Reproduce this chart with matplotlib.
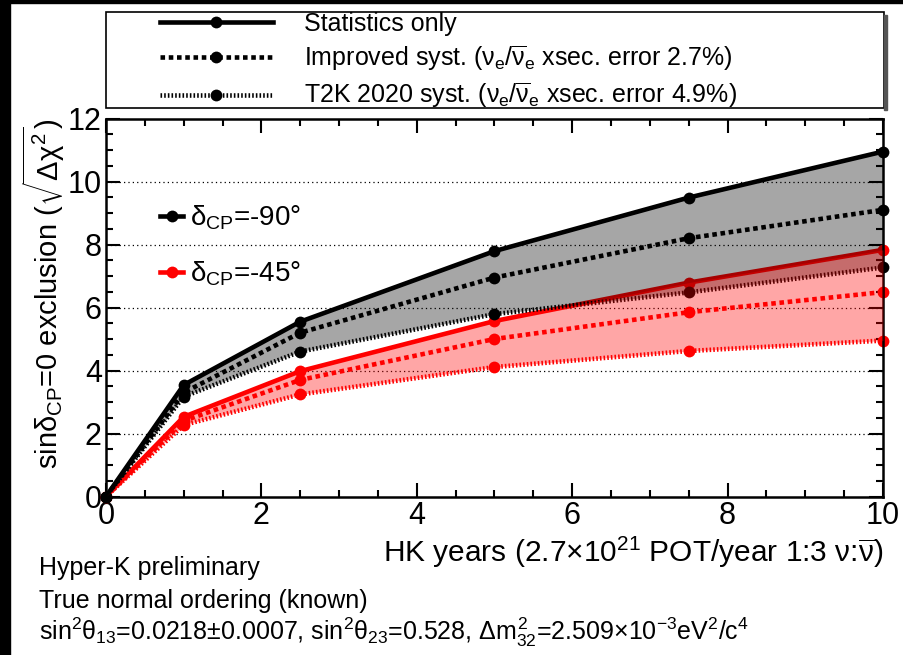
import matplotlib
matplotlib.use("Agg")
import matplotlib.pyplot as plt
from matplotlib.lines import Line2D
from matplotlib.patches import Rectangle
from matplotlib.ticker import MultipleLocator

plt.rcParams["font.family"] = ["Liberation Sans", "DejaVu Sans"]
plt.rcParams["mathtext.fontset"] = "custom"
plt.rcParams["mathtext.rm"] = "Liberation Sans"
plt.rcParams["mathtext.it"] = "Liberation Sans"
plt.rcParams["mathtext.bf"] = "Liberation Sans:bold"

# ------------------------------------------------------------------ data
years = [0, 1, 2.5, 5, 7.5, 10]

# delta_CP = -90 deg
m90_stat = [0, 3.54, 5.55, 7.79, 9.49, 10.95]
m90_impr = [0, 3.30, 5.20, 6.95, 8.20, 9.10]
m90_t2k = [0, 3.17, 4.60, 5.79, 6.48, 7.27]

# delta_CP = -45 deg
m45_stat = [0, 2.53, 3.98, 5.57, 6.79, 7.83]
m45_impr = [0, 2.40, 3.70, 5.00, 5.85, 6.49]
m45_t2k = [0, 2.27, 3.24, 4.11, 4.62, 4.95]

xticks = [0, 2, 4, 6, 8, 10]
yticks = [0, 2, 4, 6, 8, 10, 12]

STAT_LS = "-"
IMPR_LS = (0, (1.0, 0.8))
T2K_LS = (0, (0.35, 0.45))
LW = 3.3
MS = 8.5

W, H = 904, 655
fig = plt.figure(figsize=(W / 100, H / 100), dpi=100)
ax = fig.add_axes([106 / W, 1 - 496.5 / H, 777 / W, 378 / H])

# black frame strips like the original screenshot
fig.patches.append(Rectangle((0, 0), 10 / W, 1, transform=fig.transFigure,
                             color="black", zorder=-2))
fig.patches.append(Rectangle((0, 1 - 3 / H), 1, 3 / H, transform=fig.transFigure,
                             color="black", zorder=-2))

for y in [2, 4, 6, 8, 10]:
    ax.axhline(y, color="black", lw=0.9, ls=(0, (1, 2.5)), zorder=0)

series = [
    ("red", m45_stat, m45_impr, m45_t2k),
    ("black", m90_stat, m90_impr, m90_t2k),
]
for color, stat, impr, t2k in series:
    for vals, ls in [(t2k, T2K_LS), (impr, IMPR_LS), (stat, STAT_LS)]:
        ax.plot(years, vals, color=color, ls=ls, lw=LW, marker="o", ms=MS,
                markeredgewidth=0, zorder=2, clip_on=False)

# shaded bands on top (semi-transparent, darkens lines underneath)
ax.fill_between(years, m90_t2k, m90_stat, color="black", alpha=0.35, lw=0, zorder=3)
ax.fill_between(years, m45_t2k, m45_stat, color="red", alpha=0.35, lw=0, zorder=4)

ax.set_xlim(0, 10)
ax.set_ylim(0, 12)
ax.set_xticks(xticks)
ax.set_yticks(yticks)
ax.xaxis.set_minor_locator(MultipleLocator(0.5))
ax.yaxis.set_minor_locator(MultipleLocator(0.5))
ax.tick_params(which="both", direction="in", top=True, right=True, width=1.5)
ax.tick_params(which="major", length=10, labelsize=22)
ax.tick_params(axis="x", which="major", pad=3)
ax.tick_params(axis="y", which="major", pad=3)
ax.tick_params(which="minor", length=5)
for sp in ax.spines.values():
    sp.set_linewidth(1.8)

ax.set_ylabel(r"sin$\delta_{\rm CP}$=0 exclusion ($\sqrt{\Delta\chi^2}$)", fontsize=21,
              loc="top")
ax.yaxis.set_label_coords(-0.05, 1.0)
ax.set_xlabel(r"HK years (2.7$\times$10$^{21}$ POT/year 1:3 $\nu$:$\overline{\nu}$)",
              fontsize=21.5, loc="right")
ax.xaxis.set_label_coords(1.0, -0.1)

# inner legend (delta_CP values)
inner = [
    Line2D([], [], color="black", lw=LW, marker="o", ms=MS, markeredgewidth=0),
    Line2D([], [], color="red", lw=LW, marker="o", ms=MS, markeredgewidth=0),
]
leg2 = ax.legend(inner, [r"$\delta_{\rm CP}$=-90°", r"$\delta_{\rm CP}$=-45°"],
                 loc="upper left", bbox_to_anchor=(0.055, 0.805), frameon=False,
                 fontsize=20, handlelength=0.85, handletextpad=0.25, labelspacing=1.0,
                 borderaxespad=0)
ax.add_artist(leg2)

# top legend (systematics): frame drawn as a figure patch behind the axes
fig.patches.append(Rectangle((106 / W, 1 - 108 / H), 778 / W, 96 / H,
                             transform=fig.transFigure, facecolor="white",
                             edgecolor="black", lw=1.2, zorder=-1))
fig.patches.append(Rectangle((884 / W, 1 - 110 / H), 3 / W, 95 / H,
                             transform=fig.transFigure, color="#555555", zorder=-1))
top = [
    Line2D([], [], color="black", ls=STAT_LS, lw=LW, marker="o", ms=MS, markeredgewidth=0),
    Line2D([], [], color="black", ls=IMPR_LS, lw=LW, marker="o", ms=MS, markeredgewidth=0),
    Line2D([], [], color="black", ls=T2K_LS, lw=LW, marker="o", ms=MS, markeredgewidth=0),
]
labels = [
    "Statistics only",
    r"Improved syst. ($\nu_e$/$\overline{\nu}_e$ xsec. error 2.7%)",
    r"T2K 2020 syst. ($\nu_e$/$\overline{\nu}_e$ xsec. error 4.9%)",
]
leg = ax.legend(top, labels, loc="upper left",
                bbox_to_anchor=(160 / W, 1 - 12 / H), bbox_transform=fig.transFigure,
                fontsize=18, handlelength=4.5, handletextpad=1.24,
                labelspacing=0.32, borderpad=0, borderaxespad=0, frameon=False)

fig.text(39 / W, 1 - 575 / H, "Hyper-K preliminary", fontsize=18, va="baseline")
fig.text(39 / W, 1 - 608 / H, "True normal ordering (known)", fontsize=18,
         va="baseline")
fig.text(39 / W, 1 - 640 / H,
         r"sin$^2\theta_{13}$=0.0218±0.0007, sin$^2\theta_{23}$=0.528, "
         r"$\Delta m^2_{32}$=2.509$\times$10$^{-3}$eV$^2$/c$^4$",
         fontsize=18, va="baseline")

fig.savefig("out.png", dpi=100)
